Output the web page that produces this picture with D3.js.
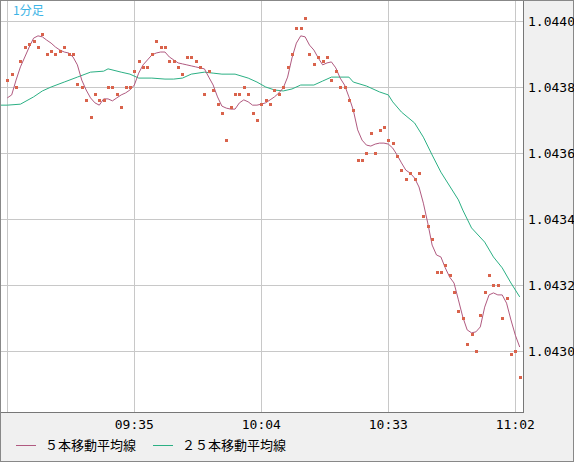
<!DOCTYPE html>
<html><head><meta charset="utf-8">
<script src="https://cdn.jsdelivr.net/npm/d3@7"></script>
<style>body{margin:0;background:#fff}svg{display:block}</style>
</head><body>
<svg id="chart" width="574" height="462"></svg>
<script>
/* DATA */
var tickIdx = [29, 58, 87, 116];
var tickLabels = ["09:35", "10:04", "10:33", "11:02"];
var yTicks = [1.0430, 1.0432, 1.0434, 1.0436, 1.0438, 1.0440];

// one price per minute from 09:06 to 11:03
var prices = [
  1.04382,1.04384,1.04380,1.04388,1.04392,1.04393,1.04394,1.04392,1.04396,1.04390,
  1.04391,1.04390,1.04391,1.04392,1.04390,1.04390,1.04381,1.04380,1.04376,1.04371,
  1.04378,1.04376,1.04376,1.04380,1.04380,1.04378,1.04374,1.04380,1.04380,1.04385,
  1.04388,1.04386,1.04386,1.04390,1.04394,1.04392,1.04392,1.04388,1.04388,1.04386,
  1.04384,1.04389,1.04389,1.04388,1.04386,1.04378,1.04385,1.04379,1.04375,1.04372,
  1.04364,1.04374,1.04378,1.04378,1.04380,1.04378,1.04372,1.04370,1.04375,1.04376,
  1.04375,1.04379,1.04378,1.04380,1.04386,1.04390,1.04398,1.04398,1.04401,1.04390,
  1.04387,1.04389,1.04388,1.04389,1.04382,1.04385,1.04380,1.04380,1.04376,1.04373,
  1.04358,1.04358,1.04360,1.04366,1.04360,1.04367,1.04368,1.04364,1.04363,1.04359,
  1.04355,1.04352,1.04354,1.04352,1.04354,1.04341,1.04338,1.04334,1.04324,1.04324,
  1.04326,1.04323,1.04318,1.04312,1.04310,1.04302,1.04305,1.04300,1.04311,1.04318,
  1.04323,1.04320,1.04320,1.04310,1.04316,1.04299,1.04300,1.04292
];

var ma5 = [
  1.043767,1.043776,1.043821,1.043861,1.043891,1.043921,1.043948,1.043955,1.043952,1.043942,
  1.043933,1.043921,1.043912,1.043906,1.043903,1.043891,1.043867,1.043821,1.043791,1.043767,
  1.043752,1.043745,1.043764,1.043764,1.043758,1.043767,1.043776,1.043782,1.043791,1.043806,
  1.043842,1.043867,1.043882,1.043897,1.043903,1.043906,1.043906,1.043891,1.043882,1.043873,
  1.043870,1.043867,1.043864,1.043861,1.043858,1.043855,1.043830,1.043806,1.043770,1.043742,
  1.043736,1.043733,1.043733,1.043752,1.043761,1.043755,1.043745,1.043745,1.043748,1.043752,
  1.043761,1.043770,1.043782,1.043797,1.043830,1.043888,1.043933,1.043955,1.043952,1.043927,
  1.043912,1.043888,1.043867,1.043873,1.043876,1.043858,1.043827,1.043806,1.043770,1.043730,
  1.043670,1.043639,1.043624,1.043621,1.043627,1.043630,1.043630,1.043627,1.043615,1.043594,
  1.043570,1.043548,1.043539,1.043524,1.043497,1.043448,1.043388,1.043321,1.043291,1.043285,
  1.043252,1.043224,1.043206,1.043155,1.043103,1.043064,1.043055,1.043058,1.043073,1.043133,
  1.043170,1.043176,1.043170,1.043170,1.043145,1.043094,1.043048,1.043012
];

var ma25Idx = [-1.7,0,3,6,8,10,13,16,19,22,23,26,28,30,33,36,38,40,42,45,47,49,52,55,57,59,
  61,63,65,67,70,72,74,78,79,82,85,87,88,90,93,95,97,99,103,104,106,109,111,113,115,117];
var ma25 = [1.043745,1.043745,1.043748,1.043770,1.043788,1.043800,1.043815,1.043830,1.043845,
  1.043848,1.043855,1.043845,1.043839,1.043827,1.043827,1.043824,1.043824,1.043827,1.043839,
  1.043845,1.043842,1.043839,1.043839,1.043827,1.043815,1.043800,1.043791,1.043788,1.043794,
  1.043806,1.043806,1.043818,1.043830,1.043830,1.043815,1.043803,1.043785,1.043776,1.043755,
  1.043724,1.043691,1.043648,1.043594,1.043542,1.043458,1.043427,1.043373,1.043330,1.043285,
  1.043252,1.043206,1.043164];

/* SETUP */
var W = 574, H = 462, plotR = 523, plotB = 412;
var svg = d3.select("#chart");

var x = d3.scaleLinear().domain([-1.67, 117.75]).range([0, plotR]);
var y = d3.scaleLinear().domain([1.0430, 1.0440]).range([351, 21]);

svg.append("rect").attr("width", W).attr("height", H).attr("fill", "#f0f0f0");
svg.append("rect").attr("width", plotR).attr("height", plotB).attr("fill", "#fff");

var grid = svg.append("g").attr("stroke", "#c8c8c8").attr("stroke-width", 1);
grid.selectAll(".h").data(yTicks).join("line")
  .attr("x1", 0).attr("x2", plotR)
  .attr("y1", d => Math.round(y(d)) + 0.5).attr("y2", d => Math.round(y(d)) + 0.5);
grid.selectAll(".v").data([0].concat(tickIdx)).join("line")
  .attr("y1", 0).attr("y2", plotB)
  .attr("x1", d => Math.round(x(d)) + 0.5).attr("x2", d => Math.round(x(d)) + 0.5);

var line = d3.line().x((d, i) => x(i)).y(d => y(d));
svg.append("path").datum(ma25)
  .attr("d", d3.line().x((d, i) => x(ma25Idx[i])).y(d => y(d)))
  .attr("fill", "none").attr("stroke", "#2bb084").attr("stroke-width", 1);
svg.append("path").datum(ma5).attr("d", line)
  .attr("fill", "none").attr("stroke", "#b05a80").attr("stroke-width", 1);

svg.append("g").selectAll("rect").data(prices).join("rect")
  .attr("x", (d, i) => Math.round(x(i)) - 1).attr("y", d => Math.round(y(d)) - 1)
  .attr("width", 3).attr("height", 3).attr("fill", "#d9634c");

// frame
svg.append("line").attr("x1", plotR + 0.5).attr("x2", plotR + 0.5).attr("y1", 0).attr("y2", plotB + 1)
  .attr("stroke", "#777");
svg.append("line").attr("x1", 0).attr("x2", plotR).attr("y1", plotB + 0.5).attr("y2", plotB + 0.5)
  .attr("stroke", "#777");
svg.append("rect").attr("x", 0.5).attr("y", 0.5).attr("width", W - 1).attr("height", H - 1)
  .attr("fill", "none").attr("stroke", "#888");

var mono = "'DejaVu Sans Mono', monospace";
svg.append("g").selectAll("text").data(yTicks).join("text")
  .attr("x", 528).attr("y", d => y(d) + 5)
  .attr("font-family", mono).attr("font-size", 13).attr("fill", "#000")
  .text(d => d.toFixed(4));
svg.append("g").selectAll("text").data(tickIdx).join("text")
  .attr("x", d => x(d)).attr("y", 429).attr("text-anchor", "middle")
  .attr("font-family", mono).attr("font-size", 13).attr("fill", "#000")
  .text((d, i) => tickLabels[i]);

svg.append("text").attr("x", 13).attr("y", 15).attr("fill", "#3cb4e6")
  .attr("font-family", "'Noto Sans CJK JP'").attr("font-size", 12).text("1分足");

var legend = [
  {label: "５本移動平均線", color: "#b05a80", x: 16},
  {label: "２５本移動平均線", color: "#2bb084", x: 153}
];
var lg = svg.append("g").selectAll("g").data(legend).join("g");
lg.append("line").attr("x1", d => d.x).attr("x2", d => d.x + 20)
  .attr("y1", 445.5).attr("y2", 445.5).attr("stroke", d => d.color);
lg.append("text").attr("x", d => d.x + 29).attr("y", 450)
  .attr("font-family", "'Noto Sans CJK JP'").attr("font-size", 13).attr("fill", "#000")
  .text(d => d.label);
</script>
</body></html>
